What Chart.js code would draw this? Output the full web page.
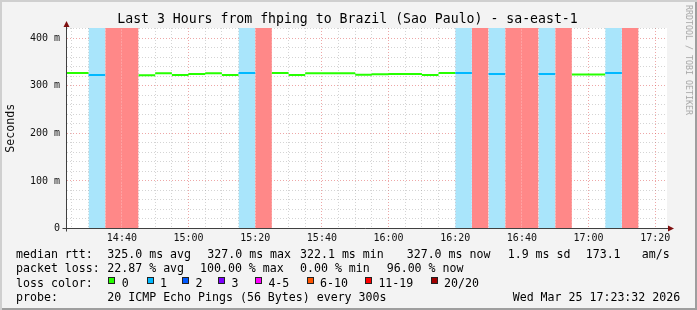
<!DOCTYPE html>
<html>
<head>
<meta charset="utf-8">
<script src="https://cdn.jsdelivr.net/npm/chart.js@4.4.1/dist/chart.umd.min.js"></script>
<style>
    html, body { margin: 0; padding: 0; background: #f3f3f3; }
    #wrap {
        position: relative; width: 697px; height: 310px; overflow: hidden;
        background: #f3f3f3; color: #000;
        font-family: "DejaVu Sans Mono", monospace;
    }
    #plot { position: absolute; left: 0; top: 0; }
    #frame {
        position: absolute; left: 0; top: 0; right: 0; bottom: 0; pointer-events: none;
        box-shadow: inset 2px 2px 0 #cfcfcf, inset -2px -2px 0 #9e9e9e;
    }
    #title {
        position: absolute; left: 0; width: 695px; top: 11px;
        text-align: center; font-size: 13.2px; line-height: 16px; white-space: pre;
    }
    #mark {
        position: absolute; left: 688.5px; top: 60px; font-size: 8.3px; color: #a6a6a6;
        white-space: pre; transform: translate(-50%, -50%) rotate(90deg);
    }
    .t { position: absolute; white-space: pre; font-size: 11.6px; line-height: 14px; }
    .box { position: absolute; width: 7px; height: 7px; box-sizing: border-box; border: 1px solid #222; }
</style>
</head>
<body>
<div id="wrap">
    <canvas id="plot" width="697" height="310"></canvas>
    <div id="title">Last 3 Hours from fhping to Brazil (Sao Paulo) - sa-east-1</div>
    <div id="mark">RRDTOOL / TOBI OETIKER</div>
    <div id="legend"></div>
    <div id="frame"></div>
</div>
<script>
'use strict';

// 5 minute steps (start of each step), median rtt in ms, lost pings out of 20
const intervalStarts = [
    "14:20", "14:25", "14:30", "14:35", "14:40", "14:45", "14:50", "14:55",
    "15:00", "15:05", "15:10", "15:15", "15:20", "15:25", "15:30", "15:35",
    "15:40", "15:45", "15:50", "15:55", "16:00", "16:05", "16:10", "16:15",
    "16:20", "16:25", "16:30", "16:35", "16:40", "16:45", "16:50", "16:55",
    "17:00", "17:05", "17:10"
];
const medianRtt = [
    327.0, 327.0, 322.7, null, null, 322.1, 326.3, 322.7,
    324.8, 326.3, 322.7, 327.0, null, 327.0, 322.7, 326.3,
    326.3, 326.3, 323.4, 324.6, 324.8, 324.8, 322.7, 327.0,
    327.0, null, 324.8, null, null, 324.8, null, 324.0,
    324.0, 327.0, null
];
const lossCount = [
    0, 0, 1, 20, 20, 0, 0, 0,
    0, 0, 0, 1, 20, 0, 0, 0,
    0, 0, 0, 0, 0, 0, 0, 0,
    1, 20, 1, 20, 20, 1, 20, 0,
    0, 1, 20
];

const timeTickLabels = ["14:40", "15:00", "15:20", "15:40", "16:00", "16:20", "16:40", "17:00", "17:20"];
const rttTickValues = [0, 100, 200, 300, 400];
const rttTickLabels = ["0", "100 m", "200 m", "300 m", "400 m"];

const lossLegendLabels = ["0", "1", "2", "3", "4-5", "6-10", "11-19", "20/20"];
const lossLegendColors = ["#26ff00", "#00b8ff", "#0059ff", "#7e00ff", "#ff00ff", "#ff5500", "#ff0000", "#a10000"];

const rttStats = ["325.0 ms avg", "327.0 ms max", "322.1 ms min", "327.0 ms now", "1.9 ms sd", "173.1", "am/s"];
const lossStats = ["22.87 % avg", "100.00 % max", "0.00 % min", "96.00 % now"];
const probeText = "20 ICMP Echo Pings (56 Bytes) every 300s";
const stampText = "Wed Mar 25 17:23:32 2026";

const STEP = 5;
const X_MIN = toMinutes("14:23:32");
const X_MAX = toMinutes("17:23:32");
const Y_MAX = 421.7;
const FONT = "'DejaVu Sans Mono', monospace";

function toMinutes(hms) {
    const p = hms.split(":").map(Number);
    return p[0] * 60 + p[1] + (p[2] || 0) / 60;
}

function fmtTime(min) {
    const h = Math.floor(min / 60);
    const m = Math.round(min - h * 60);
    return String(h).padStart(2, "0") + ":" + String(m).padStart(2, "0");
}

// flat segments with a gap after each, so steps are not joined
function segments(test, yOf) {
    const pts = [];
    intervalStarts.forEach((t, i) => {
        if (!test(i)) return;
        const s = toMinutes(t);
        pts.push({ x: s, y: yOf(i) }, { x: s + STEP, y: yOf(i) }, { x: s + STEP, y: null });
    });
    return pts;
}

const lineStyle = color => ({
    borderColor: color, borderWidth: 2, pointRadius: 0, fill: false, spanGaps: false, order: 0
});
const bandStyle = color => ({
    borderWidth: 0, borderColor: "transparent", backgroundColor: color,
    pointRadius: 0, fill: "origin", spanGaps: false, order: 1
});

const datasets = [
    { ...lineStyle("#26ff00"), data: segments(i => lossCount[i] === 0 && medianRtt[i] !== null, i => medianRtt[i]) },
    { ...lineStyle("#00b8ff"), data: segments(i => lossCount[i] === 1 && medianRtt[i] !== null, i => medianRtt[i]) },
    { ...bandStyle("#a9e5fb"), data: segments(i => lossCount[i] === 1, () => Y_MAX) },
    { ...bandStyle("#ff8888"), data: segments(i => lossCount[i] === 20, () => Y_MAX) },
];

const GRID = "rgba(143,143,143,0.38)";
const MGRID = "rgba(222,80,80,0.5)";

const canvasBg = {
    id: "canvasBg",
    beforeDraw(c) {
        const a = c.chartArea;
        c.ctx.save();
        c.ctx.fillStyle = "#fff";
        c.ctx.fillRect(a.left, a.top, a.right - a.left, a.bottom - a.top);
        c.ctx.restore();
    }
};

const axisArrows = {
    id: "axisArrows",
    afterDraw(c) {
        const { ctx, chartArea: a } = c;
        const ax = Math.floor(a.left) - 0.5;
        const ay = Math.floor(a.bottom) + 0.5;
        ctx.save();
        ctx.strokeStyle = "#404040";
        ctx.lineWidth = 1;
        ctx.beginPath();
        ctx.moveTo(ax, ay + 3); ctx.lineTo(ax, a.top - 2);
        ctx.moveTo(ax - 4, ay); ctx.lineTo(a.right + 2, ay);
        ctx.stroke();
        ctx.fillStyle = "#7f1010";
        ctx.beginPath();
        ctx.moveTo(ax, a.top - 7); ctx.lineTo(ax - 3, a.top - 1); ctx.lineTo(ax + 3, a.top - 1);
        ctx.closePath(); ctx.fill();
        ctx.beginPath();
        ctx.moveTo(a.right + 7, ay); ctx.lineTo(a.right + 1, ay - 3); ctx.lineTo(a.right + 1, ay + 3);
        ctx.closePath(); ctx.fill();
        ctx.restore();
    }
};

new Chart(document.getElementById("plot").getContext("2d"), {
    type: "line",
    data: { datasets },
    options: {
        responsive: false,
        animation: false,
        devicePixelRatio: 1,
        layout: { padding: { left: 0, top: 28, right: 30, bottom: 61.5 } },
        plugins: { legend: { display: false }, tooltip: { enabled: false } },
        scales: {
            x: {
                type: "linear", min: X_MIN, max: X_MAX, z: 1,
                afterBuildTicks: axis => {
                    const t = [];
                    for (let v = Math.ceil(X_MIN / STEP) * STEP; v <= X_MAX; v += STEP) t.push({ value: v });
                    axis.ticks = t;
                },
                afterFit: s => { s.height = 20; },
                grid: {
                    drawTicks: false,
                    color: ctx => timeTickLabels.includes(fmtTime(ctx.tick.value)) ? MGRID : GRID
                },
                border: { display: false, dash: [1, 2] },
                ticks: {
                    autoSkip: false, maxRotation: 0, padding: 4, color: "#111",
                    font: { family: FONT, size: 10 },
                    callback: v => {
                        const s = fmtTime(v);
                        return timeTickLabels.includes(s) ? s : "";
                    }
                }
            },
            y: {
                type: "linear", min: 0, max: Y_MAX, z: 1,
                afterBuildTicks: axis => {
                    const t = [];
                    for (let v = 0; v <= Y_MAX; v += 20) t.push({ value: v });
                    axis.ticks = t;
                },
                afterFit: s => { s.width = 67; },
                grid: {
                    drawTicks: false,
                    color: ctx => rttTickValues.includes(ctx.tick.value) ? MGRID : GRID
                },
                border: { display: false, dash: [1, 2] },
                title: {
                    display: true, text: "Seconds", color: "#111",
                    font: { family: FONT, size: 11.6 }, padding: { top: 4, bottom: 0 }
                },
                ticks: {
                    autoSkip: false, padding: 7, color: "#111",
                    font: { family: FONT, size: 10 },
                    callback: v => {
                        const i = rttTickValues.indexOf(v);
                        return i >= 0 ? rttTickLabels[i] : "";
                    }
                }
            }
        }
    },
    plugins: [canvasBg, axisArrows]
});

// legend block below the plot
const legend = document.getElementById("legend");

function placeText(x, yMid, text) {
    const el = document.createElement("div");
    el.className = "t";
    el.style.left = x + "px";
    el.style.top = (yMid - 7) + "px";
    el.textContent = text;
    legend.appendChild(el);
}

function placeBox(x, top, color) {
    const el = document.createElement("div");
    el.className = "box";
    el.style.left = x + "px";
    el.style.top = top + "px";
    el.style.background = color;
    legend.appendChild(el);
}

const rowY = [253.5, 268.3, 282.5, 296.7];
const rttStatX = [107.3, 207.3, 300, 406.7, 507.7, 585.7, 641.7];
const lossStatX = [107.3, 200, 300, 386.7];
const lossBoxX = [108.3, 146.7, 182, 218, 255, 306.7, 365, 430.7];

placeText(16, rowY[0], "median rtt:");
rttStats.forEach((s, i) => placeText(rttStatX[i], rowY[0], s));

placeText(16, rowY[1], "packet loss:");
lossStats.forEach((s, i) => placeText(lossStatX[i], rowY[1], s));

placeText(16, rowY[2], "loss color:");
lossLegendLabels.forEach((s, i) => {
    placeBox(lossBoxX[i], 277.3, lossLegendColors[i]);
    placeText(lossBoxX[i] + 13.4, rowY[2], s);
});

placeText(16, rowY[3], "probe:");
placeText(107.3, rowY[3], probeText);
placeText(512.7, rowY[3], stampText);
</script>
</body>
</html>
